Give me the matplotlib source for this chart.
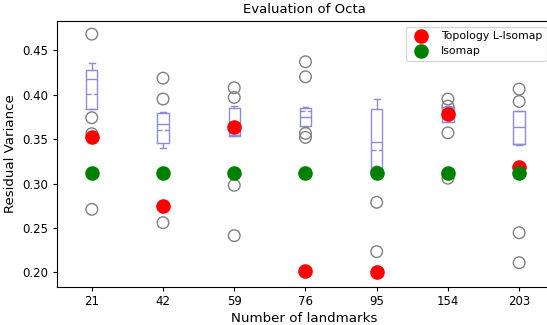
import matplotlib
matplotlib.use("Agg")
import matplotlib.pyplot as plt

landmarks = ["21", "42", "59", "76", "95", "154", "203"]

# Box statistics (per landmark count)
q1 = [0.384, 0.346, 0.3534, 0.3646, 0.315, 0.3695, 0.3444]
q3 = [0.428, 0.379, 0.3845, 0.3845, 0.3833, 0.3856, 0.3818]
med = [0.417, 0.367, 0.3545, 0.3744, 0.3463, 0.378, 0.3638]
mean = [0.4006, 0.360, 0.3545, 0.3818, 0.3373, 0.381, 0.3444]
whislo = [0.384, 0.340, 0.3534, 0.364, 0.3145, 0.3695, 0.343]
whishi = [0.435, 0.380, 0.3867, 0.386, 0.3953, 0.387, 0.3818]

# Individual runs (hollow circles)
runs = [
    [0.468, 0.374, 0.356, 0.271],
    [0.4185, 0.395, 0.256],
    [0.4077, 0.3968, 0.298, 0.2414],
    [0.4369, 0.420, 0.3564, 0.3519],
    [0.313, 0.2789, 0.2234],
    [0.395, 0.387, 0.357, 0.306, 0.311],
    [0.4062, 0.3923, 0.2447, 0.211],
]

topology = [0.3526, 0.2747, 0.3638, 0.2017, 0.2002, 0.3778, 0.3189]
isomap = [0.3115, 0.3115, 0.3115, 0.3115, 0.3115, 0.3115, 0.3115]

fig = plt.figure(figsize=(5.47, 3.25), dpi=100)
ax = fig.add_axes([0.104, 0.117, 0.905, 0.818])

positions = list(range(len(landmarks)))

stats = []
for i in positions:
    stats.append(dict(med=med[i], q1=q1[i], q3=q3[i], whislo=whislo[i],
                      whishi=whishi[i], mean=mean[i], fliers=[]))

bc = "#8c8cd9"
ax.bxp(stats, positions=positions, widths=0.16, showmeans=True, meanline=True,
       showfliers=False,
       boxprops=dict(color=bc, linewidth=1.0),
       whiskerprops=dict(color=bc, linewidth=1.0),
       capprops=dict(color=bc, linewidth=1.0),
       medianprops=dict(color=bc, linewidth=1.0),
       meanprops=dict(color=bc, linewidth=1.0, linestyle="--"))

for i, vals in enumerate(runs):
    ax.scatter([i] * len(vals), vals, s=70, facecolors="none",
               edgecolors="gray", linewidths=1.0, zorder=3)

ax.scatter(positions, topology, s=90, color="red", zorder=4,
           label="Topology L-Isomap")
ax.scatter(positions, isomap, s=90, color="green", zorder=4,
           label="Isomap")

ax.set_xticks(positions)
ax.set_xticklabels(landmarks)
ax.set_xlim(-0.49, 6.46)
ax.set_ylim(0.1837, 0.4826)
ax.set_yticks([0.20, 0.25, 0.30, 0.35, 0.40, 0.45])
ax.set_yticklabels(["0.20", "0.25", "0.30", "0.35", "0.40", "0.45"])
ax.tick_params(labelsize=8.5, length=3, pad=3)

ax.set_title("Evaluation of Octa", fontsize=9.5)
ax.set_xlabel("Number of landmarks", fontsize=9.6, labelpad=3)
ax.set_ylabel("Residual Variance", fontsize=9.6, labelpad=4)
ax.legend(loc="upper right", fontsize=7.8)

fig.savefig("out.png", dpi=100)
